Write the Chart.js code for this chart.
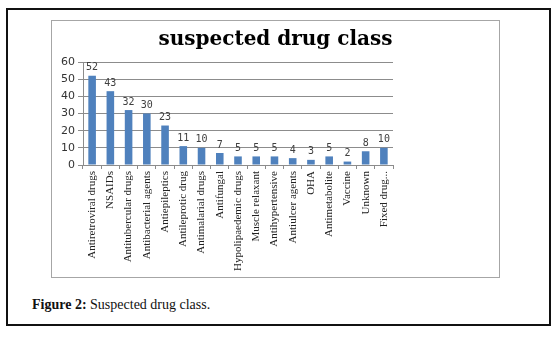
<!DOCTYPE html>
<html>
<head>
<meta charset="utf-8">
<script src="https://cdn.jsdelivr.net/npm/chart.js@4.4.1/dist/chart.umd.min.js"></script>
<style>
  html, body { margin: 0; padding: 0; background: #fff; }
  body { width: 553px; height: 338px; position: relative; overflow: hidden; }
  #frame { position: absolute; left: 6px; top: 8px; width: 541px; height: 314px; border: 2px solid #111; }
  #chartBox { position: absolute; left: 51px; top: 20px; width: 447px; height: 256px; border: 1px solid #a6a6a6; }
  #chartBox canvas { position: absolute; left: 0; top: 0; }
  #caption { position: absolute; left: 32px; top: 297px; font-family: "Liberation Serif", serif; font-size: 14px; line-height: 16px; color: #111; white-space: nowrap; }
</style>
</head>
<body>
<div id="frame"></div>
<div id="chartBox"><canvas id="drugChart" width="447" height="256"></canvas></div>
<div id="caption"><b>Figure 2:</b> Suspected drug class.</div>
<script>
// chart data
const drugClasses = [
  'Antiretroviral drugs', 'NSAIDs', 'Antitubercular drugs', 'Antibacterial agents',
  'Antiepileptics', 'Antileprotic drug', 'Antimalarial drugs', 'Antifungal',
  'Hypolipaedemic drugs', 'Muscle relaxant', 'Antihypertensive', 'Antiulcer agents',
  'OHA', 'Antimetabolite', 'Vaccine', 'Unknown', 'Fixed drug...'
];
const caseCounts = [52, 43, 32, 30, 23, 11, 10, 7, 5, 5, 5, 4, 3, 5, 2, 8, 10];
const yTicks = [0, 10, 20, 30, 40, 50, 60];

const gridGray = '#8c8c8c';

// write each value just above its bar
const barValues = {
  id: 'barValues',
  afterDatasetsDraw(chart) {
    const ctx = chart.ctx;
    const meta = chart.getDatasetMeta(0);
    ctx.save();
    ctx.font = '10px "DejaVu Sans Mono", monospace';
    ctx.fillStyle = '#404040';
    ctx.textAlign = 'center';
    ctx.textBaseline = 'middle';
    meta.data.forEach((bar, i) => {
      ctx.fillText(String(caseCounts[i]), bar.x, bar.y - 8);
    });
    ctx.restore();
  }
};

const chart = new Chart(document.getElementById('drugChart').getContext('2d'), {
  type: 'bar',
  data: {
    labels: drugClasses,
    datasets: [{
      data: caseCounts,
      backgroundColor: '#4f81bd',
      borderWidth: 0,
      categoryPercentage: 0.8,
      barPercentage: 0.52
    }]
  },
  options: {
    responsive: false,
    animation: false,
    layout: { padding: 0 },
    plugins: {
      legend: { display: false },
      tooltip: { enabled: false },
      title: {
        display: true,
        text: 'suspected drug class',
        color: '#000',
        font: { family: '"DejaVu Serif", serif', size: 20, weight: 'bold' },
        padding: { top: 7, bottom: 10 }
      }
    },
    scales: {
      x: {
        offset: true,
        grid: { display: true, offset: true, drawOnChartArea: false, drawTicks: true, tickLength: 4, color: gridGray },
        border: { display: true, color: gridGray },
        ticks: {
          autoSkip: false,
          minRotation: 90,
          maxRotation: 90,
          padding: 2,
          color: '#222',
          font: { family: '"Liberation Serif", serif', size: 11 }
        },
        afterFit: s => { s.height = 112; }
      },
      y: {
        min: 0,
        max: 60,
        afterBuildTicks: s => { s.ticks = yTicks.map(v => ({ value: v })); },
        grid: { color: gridGray, tickLength: 5 },
        border: { display: true, color: gridGray },
        ticks: {
          padding: 3,
          color: '#333',
          font: { family: '"DejaVu Sans", sans-serif', size: 11 }
        },
        afterFit: s => { s.width = 31; }
      },
      // empty right axis, only keeps the blank space right of the plot
      yRight: {
        position: 'right',
        display: true,
        grid: { display: false },
        border: { display: false },
        ticks: { display: false },
        afterFit: s => { s.width = 106; }
      }
    }
  },
  plugins: [barValues]
});
</script>
</body>
</html>
